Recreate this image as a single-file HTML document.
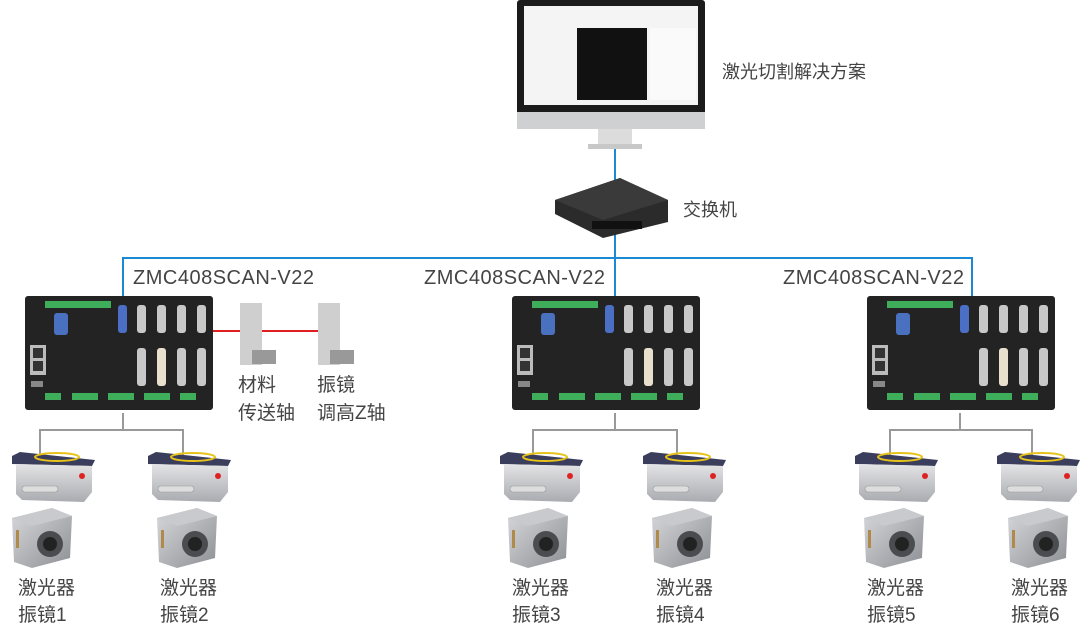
<!DOCTYPE html>
<html><head><meta charset="utf-8"><style>
body{margin:0;background:#fff;}
svg{display:block;}
text{font-family:"Liberation Sans","Noto Sans CJK SC",sans-serif;fill:#444;}
</style></head><body>
<svg width="1080" height="625" viewBox="0 0 1080 625">
<defs>
<linearGradient id="sil" x1="0" y1="0" x2="0" y2="1"><stop offset="0" stop-color="#e4e4e6"/><stop offset="1" stop-color="#a9abb0"/></linearGradient>
<linearGradient id="galg" x1="0" y1="0" x2="1" y2="1"><stop offset="0" stop-color="#d8d9dc"/><stop offset="1" stop-color="#8d8f94"/></linearGradient>
<symbol id="ctl" viewBox="0 0 188 120" width="188" height="120">
<rect x="0" y="3" width="188" height="114" rx="3" fill="#232323"/>
<rect x="20" y="8" width="66" height="7" fill="#3fae5a"/>
<rect x="29" y="20" width="14" height="22" rx="3" fill="#4a70c0"/>
<rect x="93" y="12" width="9" height="28" rx="3" fill="#4b6fc4"/>
<g fill="#c8c8c8"><rect x="112" y="12" width="9" height="28" rx="3"/><rect x="132" y="12" width="9" height="28" rx="3"/><rect x="152" y="12" width="9" height="28" rx="3"/><rect x="172" y="12" width="9" height="28" rx="3"/>
<rect x="112" y="55" width="9" height="38" rx="3"/><rect x="152" y="55" width="9" height="38" rx="3"/><rect x="172" y="55" width="9" height="38" rx="3"/></g>
<rect x="132" y="55" width="9" height="38" rx="3" fill="#e8e0cc"/>
<rect x="5" y="52" width="16" height="30" fill="#bbb"/><rect x="8" y="55" width="10" height="10" fill="#333"/><rect x="8" y="68" width="10" height="10" fill="#333"/>
<rect x="6" y="88" width="12" height="6" fill="#888"/>
<g fill="#3fae5a"><rect x="20" y="100" width="16" height="7"/><rect x="47" y="100" width="26" height="7"/><rect x="83" y="100" width="26" height="7"/><rect x="119" y="100" width="26" height="7"/><rect x="155" y="100" width="16" height="7"/></g>
</symbol>
<symbol id="las" viewBox="0 0 83 50" width="83" height="50">
<polygon points="0,4 8,0 83,8 80,14 0,12" fill="#3a3e5c"/>
<ellipse cx="45" cy="5" rx="22" ry="4" fill="none" stroke="#e6c21a" stroke-width="2"/>
<polygon points="4,12 80,14 80,40 72,50 10,48 4,42" fill="url(#sil)"/>
<rect x="10" y="34" width="36" height="6" rx="3" fill="#ddd" stroke="#999" stroke-width=".6"/>
<circle cx="70" cy="24" r="3" fill="#d22"/>
</symbol>
<symbol id="galv" viewBox="0 0 60 60" width="60" height="60">
<polygon points="0,10 40,0 60,8 58,50 20,60 2,54" fill="url(#galg)"/>
<polygon points="0,10 40,0 60,8 20,18" fill="#c9cacd"/>
<circle cx="38" cy="36" r="13" fill="#4a4c50"/><circle cx="38" cy="36" r="7" fill="#222"/>
<rect x="4" y="22" width="3" height="18" fill="#b08a4a"/>
</symbol>
</defs>
<rect x="517" y="0" width="188" height="115" rx="3" fill="#1b1b1b"/>
<rect x="524" y="6" width="174" height="99" fill="#f4f4f4"/>
<rect x="577" y="28" width="70" height="72" fill="#111"/>
<rect x="650" y="28" width="46" height="72" fill="#fafafa"/>
<rect x="517" y="112" width="188" height="17" fill="#cfd0d2"/>
<rect x="598" y="129" width="34" height="16" fill="#dcdcdc"/>
<rect x="588" y="144" width="54" height="5" fill="#c8c8c8"/>
<text x="722" y="78" font-size="18">激光切割解决方案</text>
<g stroke="#1a8ad4" stroke-width="2" fill="none">
<line x1="615" y1="149" x2="615" y2="185"/>
<polyline points="123,300 123,258 972,258 972,300"/>
<line x1="615" y1="232" x2="615" y2="296"/>
</g>
<polygon points="555,200 620,178 668,200 668,222 603,238 555,214" fill="#2b2b2b"/>
<polygon points="555,200 620,178 668,200 603,220" fill="#3a3a3a"/>
<rect x="592" y="221" width="50" height="8" fill="#111"/>
<text x="683" y="216" font-size="18">交换机</text>
<text x="133" y="284" font-size="20" letter-spacing="0.5">ZMC408SCAN-V22</text>
<text x="424" y="284" font-size="20" letter-spacing="0.5">ZMC408SCAN-V22</text>
<text x="783" y="284" font-size="20" letter-spacing="0.5">ZMC408SCAN-V22</text>
<use href="#ctl" x="25" y="293"/>
<use href="#ctl" x="512" y="293"/>
<use href="#ctl" x="867" y="293"/>
<line x1="213" y1="331" x2="318" y2="331" stroke="#e02020" stroke-width="2"/>
<g><rect x="240" y="303" width="22" height="62" fill="#cfcfcf"/><rect x="252" y="350" width="24" height="14" fill="#999"/>
<rect x="318" y="303" width="22" height="62" fill="#cfcfcf"/><rect x="330" y="350" width="24" height="14" fill="#999"/></g>
<text x="238" y="391" font-size="19">材料</text><text x="238" y="419" font-size="19">传送轴</text>
<text x="317" y="391" font-size="19">振镜</text><text x="317" y="419" font-size="19">调高Z轴</text>
<g stroke="#999" stroke-width="2" fill="none">
<polyline points="123,413 123,430"/><polyline points="40,458 40,430 183,430 183,458"/>
<polyline points="615,413 615,430"/><polyline points="533,458 533,430 677,430 677,458"/>
<polyline points="960,413 960,430"/><polyline points="890,458 890,430 1032,430 1032,458"/>
</g>
<use href="#las" x="12" y="452"/><use href="#las" x="148" y="452"/>
<use href="#las" x="500" y="452"/><use href="#las" x="643" y="452"/>
<use href="#las" x="855" y="452"/><use href="#las" x="997" y="452"/>
<use href="#galv" x="12" y="508"/><use href="#galv" x="157" y="508"/>
<use href="#galv" x="508" y="508"/><use href="#galv" x="652" y="508"/>
<use href="#galv" x="864" y="508"/><use href="#galv" x="1008" y="508"/>
<g font-size="19">
<text x="18" y="594">激光器</text><text x="18" y="621">振镜1</text>
<text x="160" y="594">激光器</text><text x="160" y="621">振镜2</text>
<text x="512" y="594">激光器</text><text x="512" y="621">振镜3</text>
<text x="656" y="594">激光器</text><text x="656" y="621">振镜4</text>
<text x="867" y="594">激光器</text><text x="867" y="621">振镜5</text>
<text x="1011" y="594">激光器</text><text x="1011" y="621">振镜6</text>
</g>
</svg>
</body></html>
